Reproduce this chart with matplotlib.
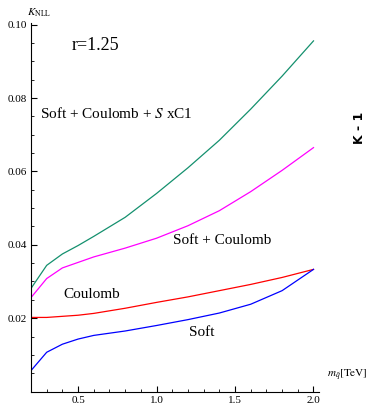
import matplotlib.pyplot as plt
import numpy as np
from matplotlib.ticker import MultipleLocator

plt.rcParams["font.family"] = "serif"
plt.rcParams["font.serif"] = ["Liberation Serif", "DejaVu Serif"]
plt.rcParams["mathtext.fontset"] = "stix"

# ===============================
# values (K - 1 vs squark mass, r = 1.25)
mass = [0.2, 0.3, 0.4, 0.5, 0.6, 0.8, 1.0, 1.2, 1.4, 1.6, 1.8, 2.0]
soft = [0.0057, 0.0107, 0.0129, 0.0143, 0.0153, 0.0165, 0.0180, 0.0196, 0.0214,
        0.0238, 0.0275, 0.0333]
coulomb = [0.0202, 0.0202, 0.0205, 0.0208, 0.0213, 0.0227, 0.0243, 0.0258, 0.0275,
           0.0292, 0.0311, 0.0333]
soft_coulomb = [0.0256, 0.0308, 0.0337, 0.0352, 0.0367, 0.0391, 0.0418, 0.0452,
                0.0493, 0.0545, 0.0603, 0.0665]
soft_coulomb_c1 = [0.0281, 0.0344, 0.0375, 0.0398, 0.0423, 0.0475, 0.0540, 0.0610,
                   0.0685, 0.0770, 0.0860, 0.0956]

xticks = [0.5, 1.0, 1.5, 2.0]
yticks = [0.02, 0.04, 0.06, 0.08, 0.10]

# ===============================
fig = plt.figure(figsize=(3.72, 4.05), dpi=100)
ax = fig.add_axes([0.0833, 0.0333, 0.7742, 0.911])

ax.plot(mass, soft_coulomb_c1, color="#14906e", lw=0.9)
ax.plot(mass, soft_coulomb, color="#ff00ff", lw=0.9)
ax.plot(mass, coulomb, color="#ff0000", lw=0.9)
ax.plot(mass, soft, color="#0000ff", lw=0.9)

ax.set_xlim(0.2, 2.035)
ax.set_ylim(0.0, 0.1006)

ax.spines["top"].set_visible(False)
ax.spines["right"].set_visible(False)

ax.set_xticks(xticks)
ax.set_xticklabels(["0.5", "1.0", "1.5", "2.0"])
ax.set_yticks(yticks)
ax.set_yticklabels(["0.02", "0.04", "0.06", "0.08", "0.10"])
ax.xaxis.set_minor_locator(MultipleLocator(0.1))
ax.yaxis.set_minor_locator(MultipleLocator(0.005))
ax.tick_params(which="major", direction="in", length=4.5, width=0.8, labelsize=8, pad=3)
ax.tick_params(which="minor", direction="in", length=2.5, width=0.6)

ax.text(0.61, 0.0943, "r=1.25", fontsize=13, ha="center", va="center")
ax.text(0.26, 0.0758, r"Soft + Coulomb + $S$ xC1", fontsize=11, ha="left", va="center")
ax.text(1.42, 0.0412, "Soft + Coulomb", fontsize=11, ha="center", va="center")
ax.text(0.587, 0.0265, "Coulomb", fontsize=11, ha="center", va="center")
ax.text(1.287, 0.0160, "Soft", fontsize=11, ha="center", va="center")

fig.text(0.073, 0.968, r"$K_{\rm NLL}$", fontsize=8, ha="left", va="center")
fig.text(0.878, 0.072, r"$m_{\tilde{q}}\mathrm{[TeV]}$", fontsize=8, ha="left", va="center")
fig.text(0.967, 0.684, "K - 1", fontsize=9, fontweight="bold", family="DejaVu Sans",
         rotation=90, ha="center", va="center")

fig.savefig("out.png", dpi=100)
